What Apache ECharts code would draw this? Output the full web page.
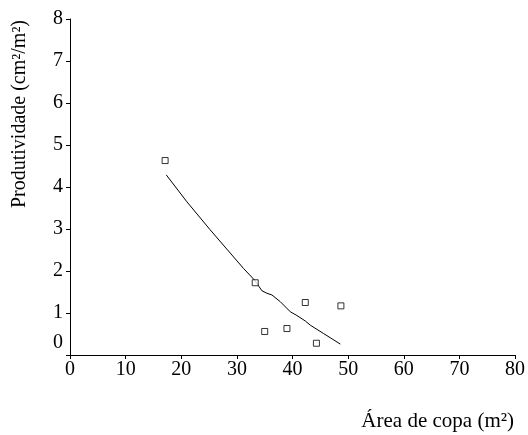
<!DOCTYPE html>
<html>
<head>
<meta charset="utf-8">
<script src="https://cdn.jsdelivr.net/npm/echarts@6/dist/echarts.min.js"></script>
<style>html,body{margin:0;padding:0;background:#fff}#c{width:528px;height:435px}</style>
</head>
<body>
<div id="c"></div>
<script>
var pointsX = [17.1, 33.3, 35.0, 39.0, 42.3, 44.3, 48.7];
var pointsY = [4.63, 1.72, 0.56, 0.63, 1.25, 0.28, 1.17];
var fitX = [17.3, 21.0, 25.2, 28.2, 31.2, 33.2, 34.5, 35.4, 36.3, 37.8, 39.6, 40.8, 42.3, 43.2, 45.6, 48.6];
var fitY = [4.29, 3.65, 2.98, 2.52, 2.06, 1.78, 1.53, 1.47, 1.43, 1.27, 1.03, 0.94, 0.81, 0.71, 0.51, 0.26];
var xTicks = [0, 10, 20, 30, 40, 50, 60, 70, 80];
var yTicks = [0, 1, 2, 3, 4, 5, 6, 7, 8];
var xTitle = 'Área de copa (m²)';
var yTitle = 'Produtividade (cm²/m²)';

var FONT = "'Liberation Serif', 'Times New Roman', serif";
var chart = echarts.init(document.getElementById('c'), null, {renderer: 'canvas'});
chart.setOption({
  animation: false,
  backgroundColor: '#fff',
  grid: {left: 70, right: 13, top: 19, bottom: 80},
  xAxis: {
    type: 'value', min: xTicks[0], max: xTicks[xTicks.length - 1], interval: 10,
    axisLine: {lineStyle: {color: '#000', width: 1}},
    axisTick: {show: true, length: 4, lineStyle: {color: '#000'}},
    splitLine: {show: false},
    axisLabel: {color: '#000', fontFamily: FONT, fontSize: 20, margin: 5}
  },
  yAxis: {
    type: 'value', min: yTicks[0], max: yTicks[yTicks.length - 1], interval: 1,
    axisLine: {show: true, lineStyle: {color: '#000', width: 1}},
    axisTick: {show: true, length: 4, lineStyle: {color: '#000'}},
    splitLine: {show: false},
    axisLabel: {
      color: '#000', fontFamily: FONT, fontSize: 20, margin: 7,
      formatter: function (v) { return v === 0 ? '{z|0}' : String(v); },
      rich: {z: {fontFamily: FONT, fontSize: 20, color: '#000', padding: [0, 0, 24, 0]}}
    }
  },
  graphic: [
    {type: 'text', x: 20, y: 114, rotation: Math.PI / 2,
     style: {text: yTitle, fontFamily: FONT, fontSize: 20, fill: '#000', textAlign: 'center', textVerticalAlign: 'middle'}},
    {type: 'text', x: 514, y: 421,
     style: {text: xTitle, fontFamily: FONT, fontSize: 21, fill: '#000', textAlign: 'right', textVerticalAlign: 'middle'}}
  ],
  series: [
    {type: 'line', data: fitX.map(function (x, i) { return [x, fitY[i]]; }),
     showSymbol: false, symbol: 'none', smooth: false,
     lineStyle: {color: '#000', width: 1}, z: 2},
    {type: 'scatter', data: pointsX.map(function (x, i) { return [x, pointsY[i]]; }),
     symbol: 'rect', symbolSize: 6,
     itemStyle: {color: '#fff', borderColor: '#000', borderWidth: 1}, z: 3}
  ]
});
</script>
</body>
</html>
